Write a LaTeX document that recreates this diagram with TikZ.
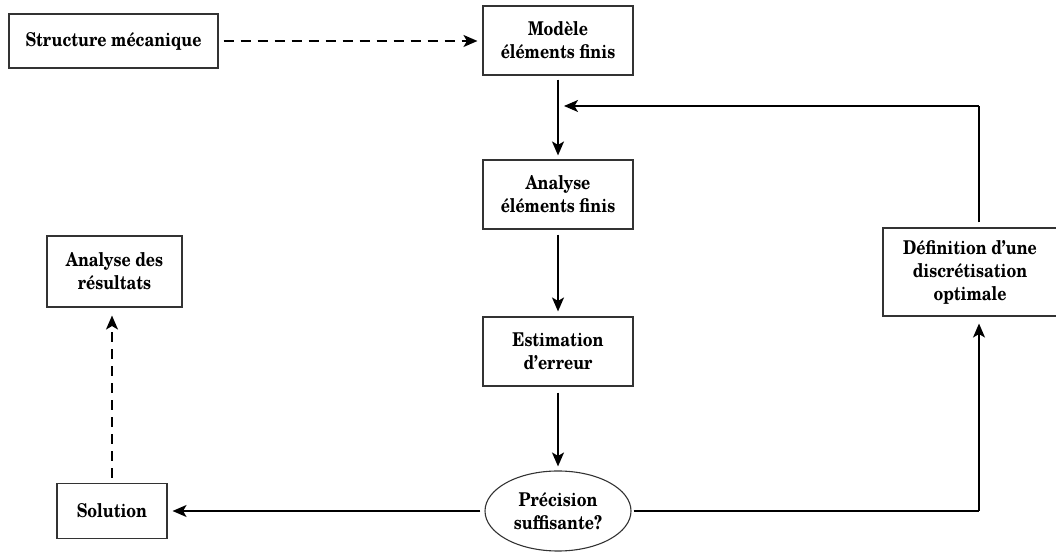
\documentclass[tikz,border=0pt]{standalone}
\usepackage{fontspec}
\setmainfont{TeX Gyre Schola}[FakeStretch=0.84]
\usetikzlibrary{arrows.meta,shapes.geometric}
\tikzset{
  box/.style={draw=black!80, line width=1.1pt, rectangle, inner sep=0pt, align=center,
    font=\fontsize{19}{23}\selectfont\bfseries},
  oval/.style={draw=black!80, line width=1.1pt, ellipse, inner sep=0pt, align=center,
    font=\fontsize{19}{23}\selectfont\bfseries},
  arr/.style={line width=1.8pt, -{Stealth[length=14pt,width=12pt,inset=3.5pt]}, shorten >=5pt, shorten <=5pt},
  darr/.style={arr, dash pattern=on 10pt off 7pt},
  fb/.style={line width=1.2pt},
  fbarr/.style={fb, -{Stealth[length=14pt,width=12pt,inset=3.5pt]}}
}
\begin{document}
\begin{tikzpicture}[x=1pt,y=1pt]
\useasboundingbox (0,0) rectangle (1056,553);
\node[box, minimum width=209pt, minimum height=54pt] (sm) at (113.5,512) {Structure mécanique};
\node[box, minimum width=150pt, minimum height=69pt] (me) at (558,512.5) {Modèle\\éléments finis};
\node[box, minimum width=150pt, minimum height=69pt] (ae) at (558,358.5) {Analyse\\éléments finis};
\node[box, minimum width=150pt, minimum height=69pt] (est) at (558,201.5) {Estimation\\d’erreur};
\node[oval, minimum width=146pt, minimum height=80pt] (prec) at (558,42) {Précision\\suffisante?};
\node[box, minimum width=110pt, minimum height=55pt] (sol) at (112,42) {Solution};
\node[box, minimum width=135pt, minimum height=71pt] (ard) at (114.5,281.5) {Analyse des\\résultats};
\node[box, minimum width=174pt, minimum height=88pt] (def) at (970,281) {Définition d’une\\discrétisation\\optimale};
\coordinate (topR) at (979,447);
\coordinate (topL) at (564,447);
\coordinate (botR) at (979,42);

\draw[darr] (sm.east) -- (me.west |- sm.east);
\draw[arr, shorten <=4pt, shorten >=4pt] (me.south) -- (ae.north);
\draw[arr] (ae.south) -- (est.north);
\draw[arr, shorten <=6pt, shorten >=4pt] (est.south) -- (prec.north);
\draw[arr, shorten <=4pt] (prec.west) -- (sol.east);
\draw[darr, shorten >=8pt] (sol.north) -- (sol.north |- ard.south);
\draw[fb, shorten <=2pt] (prec.east) -- (botR);
\draw[fbarr, shorten >=7pt] (botR) -- (botR |- def.south);
\draw[fb, shorten <=5pt] (topR |- def.north) -- (topR);
\draw[fbarr] (topR) -- (topL);
\end{tikzpicture}
\end{document}
